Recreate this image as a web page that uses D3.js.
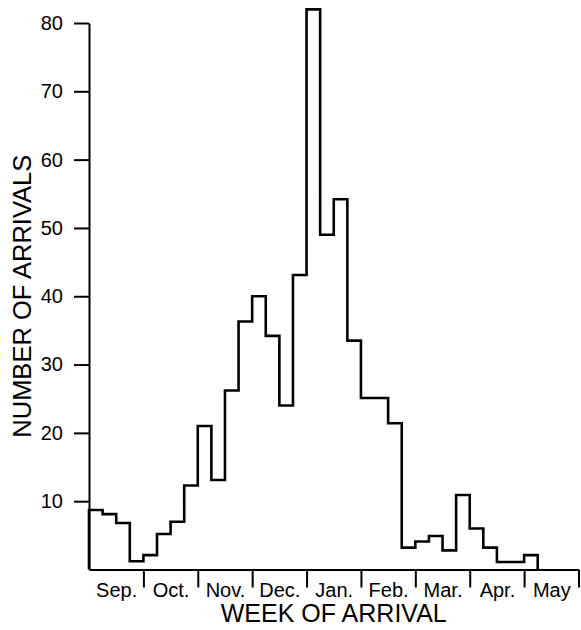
<!DOCTYPE html>
<html lang="en">
<head>
    <meta charset="UTF-8">
    <title>Week of arrival</title>
    <script src="https://d3js.org/d3.v7.min.js"></script>
    <style>
        body { margin: 0; background: #fff; }
        text {
            font-family: 'Liberation Sans', Arial, sans-serif;
            fill: #000;
        }
    </style>
</head>
<body>
<script>

    const width  = 581;
    const height = 630;

    // arrivals per week, starting first week of September
    const arrivals = [
        8.7, 8.1, 6.8, 1.2,
        2.1, 5.2, 7, 12.3,
        21, 13.1, 26.2, 36.3,
        40, 34.2, 24, 43.1,
        82, 49, 54.2, 33.5,
        25.1, 25.1, 21.4, 3.2,
        4.1, 4.9, 2.8, 10.9,
        6, 3.2, 1.1, 1.1,
        2.1
    ];

    const months = ['Sep.', 'Oct.', 'Nov.', 'Dec.', 'Jan.', 'Feb.', 'Mar.', 'Apr.', 'May'];
    const weeksPerMonth = 4;
    const yTicks = [10, 20, 30, 40, 50, 60, 70, 80];

    const x = d3.scaleLinear()
            .domain([0, months.length * weeksPerMonth])
            .range([89, 578.5]);
    const y = d3.scaleLinear()
            .domain([0, 80])
            .range([569.5, 23]);

    const svg = d3.select("body")
            .append("svg")
            .attr("width", width)
            .attr("height", height);

    // y axis
    const yAxis = svg.append("g")
            .attr("transform", "translate(" + x(0) + ",0)")
            .call(d3.axisLeft(y)
                .tickValues(yTicks)
                .tickSize(15)
                .tickSizeOuter(0)
                .tickPadding(11));
    yAxis.select(".domain").attr("stroke-width", 2);
    yAxis.selectAll(".tick line").attr("stroke-width", 2);
    yAxis.selectAll("text")
            .style("font-size", "20px");

    // x axis: month separators
    const xAxis = svg.append("g")
            .attr("transform", "translate(0," + y(0) + ")")
            .call(d3.axisBottom(x)
                .tickValues(months.map((m, i) => (i + 1) * weeksPerMonth))
                .tickSize(18)
                .tickSizeOuter(0)
                .tickFormat(""));
    xAxis.select(".domain").attr("stroke-width", 2);
    xAxis.selectAll(".tick line").attr("stroke-width", 2);

    // month labels centred in each month
    const monthAxis = svg.append("g")
            .attr("transform", "translate(0," + y(0) + ")")
            .call(d3.axisBottom(x)
                .tickValues(months.map((m, i) => i * weeksPerMonth + weeksPerMonth / 2))
                .tickSize(0)
                .tickPadding(13)
                .tickFormat((d, i) => months[i]));
    monthAxis.select(".domain").remove();
    monthAxis.selectAll("text")
            .style("font-size", "20px");

    // histogram outline
    const points = [[0, 0]].concat(arrivals.map((v, i) => [i, v]), [[arrivals.length, 0]]);
    const line = d3.line()
            .x(d => x(d[0]))
            .y(d => y(d[1]))
            .curve(d3.curveStepAfter);

    svg.append("path")
            .datum(points)
            .attr("d", line)
            .attr("fill", "none")
            .attr("stroke", "#000")
            .attr("stroke-width", 2.6)
            .attr("stroke-linejoin", "miter");

    // axis titles
    svg.append("text")
            .attr("transform", "translate(31," + (y(0) + y(80)) / 2 + ") rotate(-90)")
            .attr("text-anchor", "middle")
            .style("font-size", "25.5px")
            .text("NUMBER OF ARRIVALS");

    svg.append("text")
            .attr("x", (x.range()[0] + x.range()[1]) / 2)
            .attr("y", 621.5)
            .attr("text-anchor", "middle")
            .style("font-size", "25px")
            .text("WEEK OF ARRIVAL");

</script>
</body>
</html>
